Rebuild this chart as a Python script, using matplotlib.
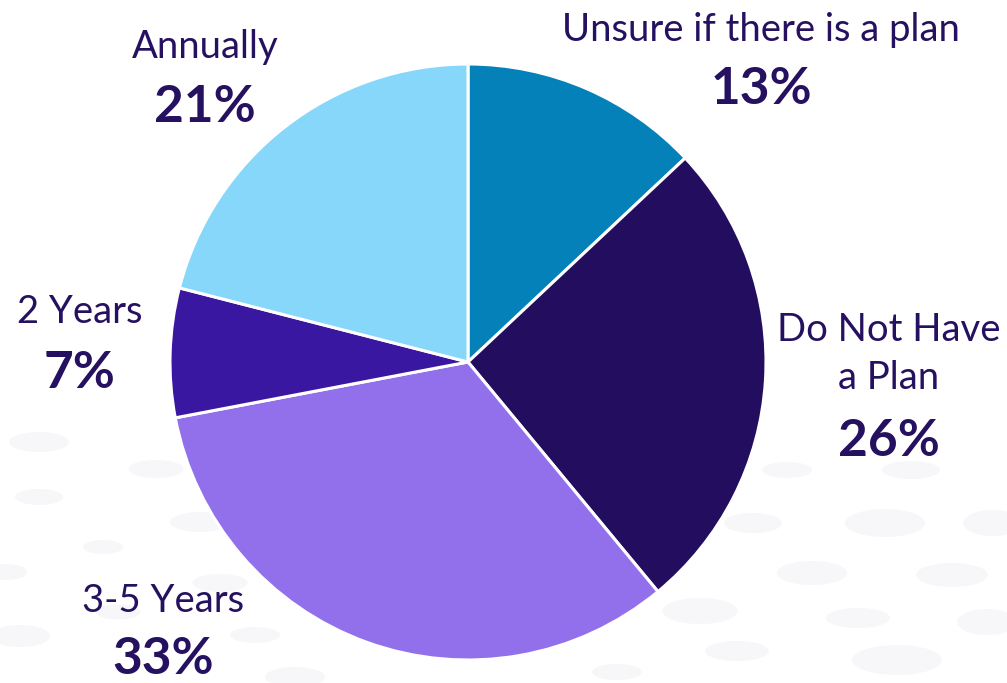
import matplotlib
matplotlib.use("Agg")
import matplotlib.pyplot as plt
from matplotlib.patches import Ellipse

# ---- data ----
categories = ["Unsure if there is a plan", "Do Not Have\na Plan", "3-5 Years", "2 Years", "Annually"]
values = [13, 26, 33, 7, 21]
pct_labels = ["13%", "26%", "33%", "7%", "21%"]
colors = ["#0581BA", "#230D5E", "#9270EB", "#3A17A0", "#87D7FB"]

TEXT = "#261160"
FONT = "Lato"

W, H = 1007, 683
fig = plt.figure(figsize=(W / 100, H / 100), dpi=100)
fig.patch.set_facecolor("white")

# background decoration (faint dots)
bg = fig.add_axes([0, 0, 1, 1])
bg.set_xlim(0, W)
bg.set_ylim(H, 0)
bg.axis("off")
dots = [(39, 442, 60, 20), (156, 469, 55, 18), (39, 497, 48, 16), (200, 522, 60, 20),
        (103, 547, 40, 14), (7, 572, 40, 16), (220, 583, 55, 18), (118, 612, 45, 15),
        (20, 636, 60, 22), (255, 635, 50, 16), (295, 677, 60, 20),
        (787, 470, 50, 16), (911, 470, 58, 18), (753, 523, 58, 20), (885, 523, 80, 28),
        (993, 523, 60, 26), (812, 573, 70, 24), (952, 575, 72, 24), (700, 611, 75, 26),
        (858, 618, 64, 20), (987, 622, 60, 26), (737, 651, 64, 20), (897, 660, 90, 30),
        (617, 672, 50, 16)]
for (x, y, w, h) in dots:
    bg.add_patch(Ellipse((x, y), w, h, color="#F7F7F9", lw=0))

# pie
cx, cy, r = 468, 362, 298
ax = fig.add_axes([(cx - r) / W, (H - cy - r) / H, 2 * r / W, 2 * r / H])
ax.pie(values, colors=colors, startangle=90, counterclock=False,
       wedgeprops=dict(edgecolor="white", linewidth=2.2))
ax.set_xlim(-1, 1)
ax.set_ylim(-1, 1)
ax.set_aspect("equal")
ax.axis("off")

# labels: (x, y name, y pct) in pixel coords
label_pos = [(761, 30, 90), (889, 354, 442), (163, 601, 660), (80, 312, 373), (205, 47, 107)]

def fx(x):
    return x / W

def fy(y):
    return 1 - y / H

for name, pct, (x, yn, yp) in zip(categories, pct_labels, label_pos):
    fig.text(fx(x), fy(yn), name, ha="center", va="center", color=TEXT,
             fontsize=27.5, family=FONT, linespacing=1.38)
    fig.text(fx(x), fy(yp), pct, ha="center", va="center", color=TEXT,
             fontsize=37, family=FONT, fontweight="bold")

fig.savefig("out.png", dpi=100, facecolor="white")
